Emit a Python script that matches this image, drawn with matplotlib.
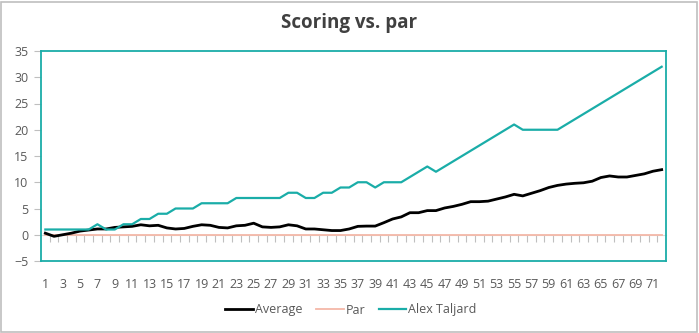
import numpy as np
import matplotlib
matplotlib.use('Agg')
import matplotlib.pyplot as plt
from matplotlib.patches import Rectangle

plt.rcParams['font.family'] = ['Open Sans', 'DejaVu Sans']

holes = list(range(1, 73))

average = [0.3, -0.3, 0.0, 0.3, 0.7, 0.9, 1.1, 1.1, 1.4, 1.5,
           1.6, 1.9, 1.7, 1.8, 1.3, 1.1, 1.2, 1.6, 1.9, 1.8,
           1.4, 1.3, 1.7, 1.8, 2.2, 1.5, 1.4, 1.5, 1.9, 1.7,
           1.1, 1.1, 0.95, 0.8, 0.8, 1.1, 1.6, 1.65, 1.65, 2.3,
           3.0, 3.4, 4.2, 4.2, 4.6, 4.6, 5.1, 5.4, 5.8, 6.3,
           6.3, 6.4, 6.8, 7.2, 7.7, 7.4, 7.9, 8.4, 9.0, 9.4,
           9.65, 9.8, 9.9, 10.2, 10.9, 11.2, 11.0, 11.0, 11.3, 11.6,
           12.1, 12.4]

par = [0] * 72

alex = [1, 1, 1, 1, 1, 1, 2, 1, 1, 2,
        2, 3, 3, 4, 4, 5, 5, 5, 6, 6,
        6, 6, 7, 7, 7, 7, 7, 7, 8, 8,
        7, 7, 8, 8, 9, 9, 10, 10, 9, 10,
        10, 10, 11, 12, 13, 12, 13, 14, 15, 16,
        17, 18, 19, 20, 21, 20, 20, 20, 20, 20,
        21, 22, 23, 24, 25, 26, 27, 28, 29, 30,
        31, 32]

xlabels = [str(h) for h in holes[::2]]

teal = '#1AADA8'
gray = '#595959'

W, H = 699, 333
fig = plt.figure(figsize=(W / 100, H / 100), dpi=100)
ax = fig.add_axes([41 / W, 1 - 261 / H, 625 / W, 210 / H])

ax.plot(holes, par, color='#F4B8A8', lw=1.3, label='Par', zorder=3)
ax.plot(holes, average, color='black', lw=2.0, label='Average', zorder=4)
ax.plot(holes, alex, color=teal, lw=1.6, label='Alex Taljard', zorder=5)

ax.set_xlim(0.5, 72.5)
ax.set_ylim(-5, 35)
ax.set_yticks(range(-5, 36, 5))
ax.set_xticks(holes[::2])
ax.set_xticklabels(xlabels)
ax.tick_params(axis='x', length=0, pad=12, labelsize=9, labelcolor=gray)
ax.tick_params(axis='y', length=5, width=0.8, color='#BFBFBF', labelsize=9,
               labelcolor=gray, pad=4)
for s in ax.spines.values():
    s.set_color(teal)
    s.set_linewidth(1.3)

# category axis crossing at zero, with tick marks between categories
sec = ax.secondary_xaxis(5 / 40)
sec.spines['bottom'].set_color('#D9D9D9')
sec.spines['bottom'].set_linewidth(0.8)
sec.set_xticks(np.arange(1.5, 72, 1.0))
sec.tick_params(axis='x', length=5, width=0.8, color='#BFBFBF', labelbottom=False)

fig.text(349 / W, 1 - 23 / H, 'Scoring vs. par', ha='center', va='center',
         fontsize=13.5, fontweight='bold', color='#404040')

handles, labels = ax.get_legend_handles_labels()
order = [1, 0, 2]
fig.legend([handles[i] for i in order], [labels[i] for i in order],
           loc='center', bbox_to_anchor=(351 / W, 1 - 310 / H), ncol=3,
           frameon=False, fontsize=9, labelcolor=gray, handlelength=2.2,
           handletextpad=0.15, columnspacing=1.1)

fig.patches.append(Rectangle((1 / W, 1 / H), 696 / W, 330 / H,
                             transform=fig.transFigure, fill=False,
                             edgecolor='#BFBFBF', lw=1.2))

fig.savefig('out.png', dpi=100)
